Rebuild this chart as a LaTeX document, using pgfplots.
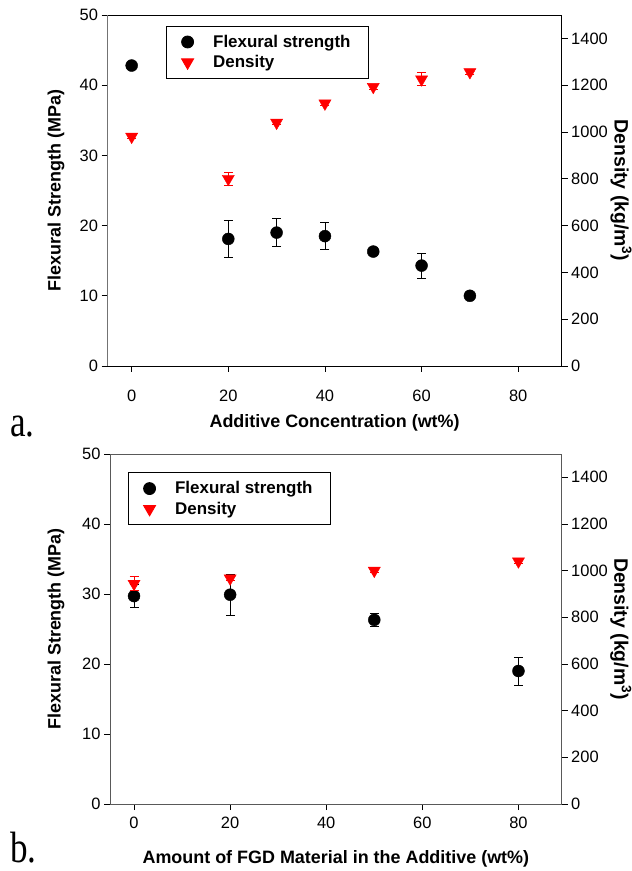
\documentclass[border=0pt]{standalone}
\usepackage{pgfplots}
\pgfplotsset{compat=1.18}
\usepackage{fontspec}
\setmainfont{Liberation Sans}
\newfontfamily\seriffont{Liberation Serif}

\pgfplotsset{
  common/.style={
    scale only axis,
    xmin=-5, xmax=89,
    xtick={0,20,40,60,80},
    tick align=outside,
    major tick length=6bp,
    minor tick num=0,
    tick style={black, line width=0.8bp},
    axis line style={line width=0.8bp},
    /pgf/number format/assume math mode=true,
    /pgf/number format/1000 sep={},
    tick label style={font=\fontsize{16.5}{18}\selectfont},
    label style={font=\fontsize{18}{20}\selectfont\bfseries},
    clip=false,
  },
  flexstyle/.style={only marks, mark=*, mark size=6bp, black, mark options={fill=black, draw=black},
    error bars/.cd, y dir=both, y explicit,
    error bar style={line width=0.8bp, black},
    error mark options={rotate=90, mark size=4.5bp, line width=0.8bp, black}},
  densstyle/.style={only marks, mark=triangle*, mark size=7bp, red, mark options={fill=red, draw=red, rotate=180},
    error bars/.cd, y dir=both, y explicit,
    error bar style={line width=0.8bp, red},
    error mark options={rotate=90, mark size=4.5bp, line width=0.8bp, red}},
  legstyle/.style={
    legend cell align=left,
    legend style={draw=black, line width=0.8bp, fill=white,
      font=\fontsize{17}{19}\selectfont\bfseries,
      inner xsep=15.5bp, inner ysep=7bp, row sep=2.6bp,
      /tikz/every odd column/.append style={column sep=17.5bp}},
  },
}

\begin{document}
\begin{tikzpicture}
\useasboundingbox (0bp,0bp) rectangle (632bp,871bp);

% ---------------- Panel a ----------------
\begin{axis}[common, legstyle,
  at={(107.5bp,505bp)}, anchor=south west, width=454.2bp, height=351bp,
  ymin=0, ymax=50, ytick={0,10,20,30,40,50},
  xtick pos=left, ytick pos=left,
  xticklabel style={yshift=-15bp},
  separate axis lines,
  y axis line style={draw=black!55},
  xlabel={Additive Concentration (wt\%)},
  ylabel={Flexural Strength (MPa)},
  xlabel style={at={(axis description cs:0.5,-0.174)}, anchor=base},
  ylabel style={at={(axis description cs:-0.1134,0.5)}, anchor=center},
  legend style={at={(axis description cs:0.128,0.9695)}, anchor=north west},
]
\addplot+[flexstyle] coordinates {
  (0,42.8) +- (0,0.3)
  (20,18.1) +- (0,2.6)
  (30,19.0) +- (0,2.0)
  (40,18.5) +- (0,1.9)
  (50,16.3) +- (0,0.6)
  (60,14.3) +- (0,1.8)
  (70,10.0) +- (0,0.3)
};
\addlegendentry{Flexural strength}
\addlegendimage{only marks, mark=triangle*, mark size=7bp, red, mark options={fill=red, draw=red, rotate=180}}
\addlegendentry{Density}
\end{axis}

\begin{axis}[common,
  at={(107.5bp,505bp)}, anchor=south west, width=454.2bp, height=351bp,
  ymin=0, ymax=1500, ytick={0,200,400,600,800,1000,1200,1400},
  axis x line=none, axis y line*=right,
  ylabel={Density (kg/m\textsuperscript{3})},
  ylabel style={at={(axis description cs:1.1306,0.5)}, anchor=center, rotate=180, font=\fontsize{19.5}{21}\selectfont\bfseries},
]
\addplot+[densstyle] coordinates {
  (0,980) +- (0,8)
  (20,800) +- (0,27)
  (30,1040) +- (0,8)
  (40,1122) +- (0,8)
  (50,1193) +- (0,10)
  (60,1225) +- (0,28)
  (70,1256) +- (0,8)
};
\end{axis}

\node[anchor=base west, inner sep=0, text depth=0pt, xscale=0.8, font=\seriffont\fontsize{44}{44}\selectfont] at (10bp,434.4bp) {a.};

% ---------------- Panel b ----------------
\begin{axis}[common, legstyle,
  at={(110bp,67bp)}, anchor=south west, width=451.7bp, height=350bp,
  ymin=0, ymax=50, ytick={0,10,20,30,40,50},
  xtick pos=left, ytick pos=left,
  xticklabel style={yshift=-4bp},
  axis line style={draw=black!65},
  xlabel={Amount of FGD Material in the Additive (wt\%)},
  ylabel={Flexural Strength (MPa)},
  xlabel style={at={(axis description cs:0.5,-0.171)}, anchor=base},
  ylabel style={at={(axis description cs:-0.1195,0.5)}, anchor=center},
  legend style={at={(axis description cs:0.039,0.9477)}, anchor=north west},
]
\addplot+[flexstyle] coordinates {
  (0,29.7) +- (0,1.6)
  (20,29.9) +- (0,2.9)
  (50,26.3) +- (0,0.9)
  (80,19.0) +- (0,2.0)
};
\addlegendentry{Flexural strength}
\addlegendimage{only marks, mark=triangle*, mark size=7bp, red, mark options={fill=red, draw=red, rotate=180}}
\addlegendentry{Density}
\end{axis}

\begin{axis}[common,
  at={(110bp,67bp)}, anchor=south west, width=451.7bp, height=350bp,
  ymin=0, ymax=1500, ytick={0,200,400,600,800,1000,1200,1400},
  axis x line=none, axis y line*=right,
  axis line style={draw=black!65},
  ylabel={Density (kg/m\textsuperscript{3})},
  ylabel style={at={(axis description cs:1.131,0.5)}, anchor=center, rotate=180, font=\fontsize{19.5}{21}\selectfont\bfseries},
]
\addplot+[densstyle] coordinates {
  (0,944) +- (0,30)
  (20,967) +- (0,8)
  (50,1000) +- (0,8)
  (80,1040) +- (0,8)
};
\end{axis}

\node[anchor=base west, inner sep=0, text depth=0pt, xscale=0.8, font=\seriffont\fontsize{44}{44}\selectfont] at (10bp,9bp) {b.};
\end{tikzpicture}
\end{document}
